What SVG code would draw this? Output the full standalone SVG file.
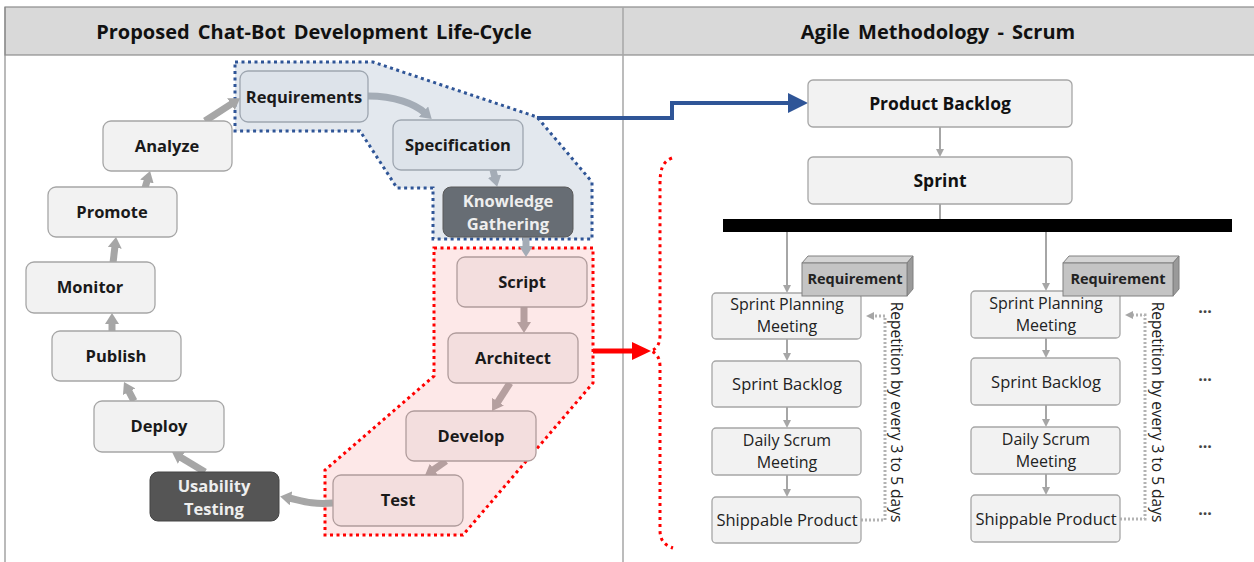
<svg xmlns="http://www.w3.org/2000/svg" width="1254" height="562" viewBox="0 0 1254 562">
  <style>
    .hdr{font-family:"Open Sans","Liberation Sans",sans-serif;font-weight:bold;font-size:20px;word-spacing:3px;fill:#111;text-anchor:middle}
    .node{fill:#f2f2f2;stroke:#a6a6a6;stroke-width:1.3}
    .nodeB{fill:#dde3ea;stroke:#9ea6b0;stroke-width:1.3}
    .nodeR{fill:#f3dede;stroke:#b09c9c;stroke-width:1.3}
    .dark1{fill:#676d74;stroke:#5a5a5a;stroke-width:1}
    .dark2{fill:#555;stroke:#444;stroke-width:1}
    .lbl{font-family:"Open Sans","Liberation Sans",sans-serif;font-weight:bold;font-size:16.5px;fill:#1a1a1a;text-anchor:middle}
    .lblw{font-family:"Open Sans","Liberation Sans",sans-serif;font-weight:bold;font-size:16.5px;fill:#eeeeee;text-anchor:middle}
    .pb{font-family:"Open Sans","Liberation Sans",sans-serif;font-weight:bold;font-size:17.5px;fill:#111;text-anchor:middle}
    .sl{font-family:"Open Sans","Liberation Sans",sans-serif;font-size:16.5px;fill:#222;text-anchor:middle}
    .sl2{font-family:"Open Sans","Liberation Sans",sans-serif;font-size:16px;fill:#222;text-anchor:middle}
    .rot{font-family:"Open Sans","Liberation Sans",sans-serif;font-size:15.5px;fill:#222;text-anchor:middle}
    .req{font-family:"Open Sans","Liberation Sans",sans-serif;font-weight:bold;font-size:14.5px;fill:#222;text-anchor:middle}
    .big{fill:none;stroke:#a6a6a6;stroke-width:7;marker-end:url(#bigHead)}
    .bigB{fill:none;stroke:#a4acb6;stroke-width:7;marker-end:url(#bigHeadB)}
    .bigR{fill:none;stroke:#b59f9f;stroke-width:7;marker-end:url(#bigHeadR)}
    .thin{fill:none;stroke:#a6a6a6;stroke-width:2;marker-end:url(#smallHead)}
    .rep{fill:none;stroke:#b3b3b3;stroke-width:3;stroke-dasharray:2 2;marker-end:url(#smallHead)}
    .dots{font-family:"Open Sans","Liberation Sans",sans-serif;font-weight:bold;font-size:16px;fill:#444;text-anchor:middle}
  </style>
  <defs>
    <marker id="bigHead" viewBox="0 0 11 14" refX="2" refY="7" markerWidth="11" markerHeight="14" markerUnits="userSpaceOnUse" orient="auto">
      <path d="M0,0 L11,7 L0,14 z" fill="#a6a6a6"/>
    </marker>
    <marker id="bigHeadB" viewBox="0 0 11 14" refX="2" refY="7" markerWidth="11" markerHeight="14" markerUnits="userSpaceOnUse" orient="auto">
      <path d="M0,0 L11,7 L0,14 z" fill="#a4acb6"/>
    </marker>
    <marker id="bigHeadR" viewBox="0 0 11 14" refX="2" refY="7" markerWidth="11" markerHeight="14" markerUnits="userSpaceOnUse" orient="auto">
      <path d="M0,0 L11,7 L0,14 z" fill="#b59f9f"/>
    </marker>
    <marker id="smallHead" viewBox="0 0 8 8" refX="1" refY="4" markerWidth="8" markerHeight="8" markerUnits="userSpaceOnUse" orient="auto">
      <path d="M0,0 L8,4 L0,8 z" fill="#a6a6a6"/>
    </marker>
  </defs>

  <rect width="1254" height="562" fill="#fff"/>

  <!-- frame and headers -->
  <g id="frame">
    <rect x="5" y="7" width="1255" height="48" fill="#d9d9d9" stroke="#8c8c8c" stroke-width="1.2"/>
    <line x1="5" y1="7" x2="5" y2="562" stroke="#8c8c8c" stroke-width="1.2"/>
    <line x1="623" y1="7" x2="623" y2="562" stroke="#a6a6a6" stroke-width="1.5"/>
    <text class="hdr" x="314" y="39">Proposed Chat-Bot Development Life-Cycle</text>
    <text class="hdr" x="938" y="39">Agile Methodology - Scrum</text>
  </g>

  <!-- phase groupings -->
  <g id="regions">
    <polygon points="235,62 373,62 537,117 592,182 592,239 433,239 433,188 397,188 360,131 235,131" fill="#e3e8ee" stroke="#2f5597" stroke-width="3" stroke-dasharray="3 3.5"/>
    <polygon points="434,248 593,248 593,383 463,535 325,535 325,470 434,376" fill="#fde8e8" stroke="#ff0000" stroke-width="3" stroke-dasharray="3 3.5"/>
  </g>

  <!-- connectors -->
  <g id="connectors">
    <path class="big" d="M205,121 L232.6,103.1"/>
    <path class="big" d="M145,188 L147.5,179.6"/>
    <path class="big" d="M113,263 L115,245.9"/>
    <path class="big" d="M112,331 L112,322"/>
    <path class="big" d="M134,401 L128.2,390"/>
    <path class="big" d="M205,472 L179.7,456.7"/>
    <path class="big" d="M333,503 C310,505 300,500 289,498"/>
    <path class="bigR" d="M446,461 L432.2,470.6"/>
    <path class="bigR" d="M510,383 L496.9,403.4"/>
    <path class="bigR" d="M524,307 L524,324"/>
    <path class="bigB" d="M526,237 L526,248"/>
    <path class="bigB" d="M493,170 L495,178"/>
    <path class="bigB" d="M368,96 C395,96 415,104 425,113"/>

    <!-- to the scrum side -->
    <polyline points="537,118 672,118 672,103 790,103" fill="none" stroke="#2f5597" stroke-width="4"/>
    <polygon points="788,93 808,103 788,113" fill="#2f5597"/>
    <line x1="593" y1="351" x2="634" y2="351" stroke="#ff0000" stroke-width="5"/>
    <polygon points="632,342 651,351 632,360" fill="#ff0000"/>
    <path d="M672,158 C662,162 660,170 660,185 L660,335 C660,345 656,349 651,351 C656,353 660,357 660,367 L660,530 C660,540 664,545 673,548" fill="none" stroke="#ff0000" stroke-width="3" stroke-dasharray="3 4"/>

    <!-- scrum flow -->
    <path class="thin" d="M940,127 L940,150"/>
    <line x1="940" y1="204" x2="940" y2="219" stroke="#a6a6a6" stroke-width="2"/>
    <path class="thin" d="M787,232 L787,286"/>
    <path class="thin" d="M787,339 L787,354"/>
    <path class="thin" d="M787,407 L787,421"/>
    <path class="thin" d="M787,475 L787,490"/>
    <path class="thin" d="M1046,232 L1046,284"/>
    <path class="thin" d="M1046,338 L1046,351"/>
    <path class="thin" d="M1046,405 L1046,420"/>
    <path class="thin" d="M1046,474 L1046,488"/>
    <path class="rep" d="M861,520 L885,520 L885,316 L873,316"/>
    <path class="rep" d="M1120,519 L1145,519 L1145,315 L1132,315"/>
  </g>

  <!-- life-cycle nodes -->
  <g id="n-requirements"><rect class="nodeB" x="240" y="71" width="128" height="51" rx="8"/><text class="lbl" x="304" y="103">Requirements</text></g>
  <g id="n-specification"><rect class="nodeB" x="393" y="120" width="130" height="50" rx="8"/><text class="lbl" x="458" y="151">Specification</text></g>
  <g id="n-knowledge"><rect class="dark1" x="443" y="187" width="130" height="50" rx="8"/><text class="lblw" x="508" y="207">Knowledge</text><text class="lblw" x="508" y="230">Gathering</text></g>
  <g id="n-script"><rect class="nodeR" x="457" y="257" width="130" height="50" rx="8"/><text class="lbl" x="522" y="288">Script</text></g>
  <g id="n-architect"><rect class="nodeR" x="448" y="333" width="130" height="50" rx="8"/><text class="lbl" x="513" y="364">Architect</text></g>
  <g id="n-develop"><rect class="nodeR" x="406" y="411" width="130" height="50" rx="8"/><text class="lbl" x="471" y="442">Develop</text></g>
  <g id="n-test"><rect class="nodeR" x="333" y="475" width="130" height="51" rx="8"/><text class="lbl" x="398" y="506">Test</text></g>
  <g id="n-usability"><rect class="dark2" x="150" y="472" width="129" height="49" rx="8"/><text class="lblw" x="214" y="492">Usability</text><text class="lblw" x="214" y="515">Testing</text></g>
  <g id="n-deploy"><rect class="node" x="94" y="401" width="130" height="51" rx="8"/><text class="lbl" x="159" y="432">Deploy</text></g>
  <g id="n-publish"><rect class="node" x="52" y="331" width="129" height="50" rx="8"/><text class="lbl" x="116" y="362">Publish</text></g>
  <g id="n-monitor"><rect class="node" x="26" y="262" width="129" height="51" rx="8"/><text class="lbl" x="90" y="293">Monitor</text></g>
  <g id="n-promote"><rect class="node" x="48" y="187" width="129" height="50" rx="8"/><text class="lbl" x="112" y="218">Promote</text></g>
  <g id="n-analyze"><rect class="node" x="103" y="121" width="129" height="50" rx="8"/><text class="lbl" x="167" y="152">Analyze</text></g>

  <!-- scrum nodes -->
  <g id="n-product-backlog"><rect class="node" x="808" y="80" width="264" height="47" rx="5"/><text class="pb" x="940" y="110">Product Backlog</text></g>
  <g id="n-sprint"><rect class="node" x="808" y="157" width="264" height="47" rx="5"/><text class="pb" x="940" y="187">Sprint</text></g>
  <g id="n-bar"><rect x="723" y="219" width="509" height="13" fill="#000"/></g>

  <g id="n-c1-planning"><rect class="node" x="712" y="293" width="149" height="46" rx="4"/><text class="sl2" x="787" y="310">Sprint Planning</text><text class="sl2" x="787" y="332">Meeting</text></g>
  <g id="n-c1-backlog"><rect class="node" x="712" y="361" width="149" height="46" rx="4"/><text class="sl" x="787" y="390">Sprint Backlog</text></g>
  <g id="n-c1-daily"><rect class="node" x="712" y="428" width="149" height="47" rx="4"/><text class="sl2" x="787" y="446">Daily Scrum</text><text class="sl2" x="787" y="468">Meeting</text></g>
  <g id="n-c1-shippable"><rect class="node" x="712" y="497" width="149" height="46" rx="4"/><text class="sl" x="787" y="526">Shippable Product</text></g>
  <g id="n-c1-requirement">
    <polygon points="802,263 808,256 913,256 907,263" fill="#d4d4d4" stroke="#808080" stroke-width="1"/>
    <polygon points="907,263 913,256 913,289 907,296" fill="#9a9a9a" stroke="#808080" stroke-width="1"/>
    <rect x="802" y="263" width="105" height="33" fill="#c4c4c4" stroke="#808080" stroke-width="1"/>
    <text class="req" x="855" y="284">Requirement</text>
  </g>
  <text class="rot" transform="translate(896,412) rotate(90)" x="0" y="5">Repetition by every 3 to 5 days</text>

  <g id="n-c2-planning"><rect class="node" x="971" y="291" width="149" height="47" rx="4"/><text class="sl2" x="1046" y="309">Sprint Planning</text><text class="sl2" x="1046" y="331">Meeting</text></g>
  <g id="n-c2-backlog"><rect class="node" x="971" y="358" width="149" height="47" rx="4"/><text class="sl" x="1046" y="388">Sprint Backlog</text></g>
  <g id="n-c2-daily"><rect class="node" x="971" y="427" width="149" height="47" rx="4"/><text class="sl2" x="1046" y="445">Daily Scrum</text><text class="sl2" x="1046" y="467">Meeting</text></g>
  <g id="n-c2-shippable"><rect class="node" x="971" y="495" width="149" height="47" rx="4"/><text class="sl" x="1046" y="525">Shippable Product</text></g>
  <g id="n-c2-requirement">
    <polygon points="1063,263 1069,256 1179,256 1173,263" fill="#d4d4d4" stroke="#808080" stroke-width="1"/>
    <polygon points="1173,263 1179,256 1179,289 1173,296" fill="#9a9a9a" stroke="#808080" stroke-width="1"/>
    <rect x="1063" y="263" width="110" height="33" fill="#c4c4c4" stroke="#808080" stroke-width="1"/>
    <text class="req" x="1118" y="284">Requirement</text>
  </g>
  <text class="rot" transform="translate(1157,412) rotate(90)" x="0" y="5">Repetition by every 3 to 5 days</text>

  <g id="continuation">
    <text class="dots" x="1205" y="313">...</text>
    <text class="dots" x="1205" y="381">...</text>
    <text class="dots" x="1205" y="448">...</text>
    <text class="dots" x="1205" y="515">...</text>
  </g>
</svg>
